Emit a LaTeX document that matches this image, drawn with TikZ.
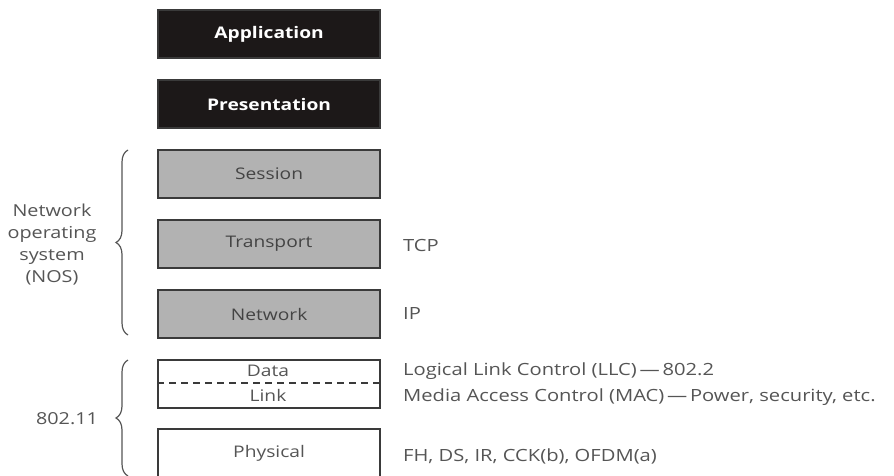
\documentclass[tikz,border=0pt]{standalone}
\usepackage{fontspec}
\setmainfont{Open Sans}[FakeStretch=1.2]
\usetikzlibrary{decorations.pathreplacing}
\definecolor{txt}{HTML}{555555}
\definecolor{boxline}{HTML}{3A3A3A}
\definecolor{darkfill}{HTML}{1C1818}
\definecolor{grayfill}{HTML}{B2B2B2}
\tikzset{
  layer/.style={draw=boxline, line width=2.2pt, minimum width=222pt, minimum height=48pt, anchor=north west, inner sep=0pt, font=\fontsize{16}{19}\selectfont},
  darklayer/.style={layer, fill=darkfill, text=white, font=\fontsize{16}{19}\selectfont\bfseries},
  graylayer/.style={layer, fill=grayfill, text=txt!80!black},
  whitelayer/.style={layer, fill=white, text=txt},
  lbl/.style={text=txt, anchor=west, inner sep=0pt, font=\fontsize{16.8}{19}\selectfont},
  sidelbl/.style={text=txt, align=center, inner sep=0pt, font=\fontsize{16.5}{22}\selectfont},
  bracestyle/.style={draw=txt, line width=1.2pt, decorate, decoration={brace, amplitude=12pt}}
}
\begin{document}
\begin{tikzpicture}[x=1pt, y=-1pt]
\useasboundingbox (0,0) rectangle (894,476);
\node[darklayer] (app) at (157,9) {Application};
\node[darklayer] (pres) at (157,79) {Presentation};
\node[graylayer] (sess) at (157,149) {Session};
\node[graylayer] (trans) at (157,219) {Transport};
\node[graylayer] (net) at (157,289) {Network};
\node[whitelayer, text height=0pt] (dl) at (157,359) {};
\node[text=txt, inner sep=0pt, font=\fontsize{16}{19}\selectfont] (dlt) at (268,371) {Data};
\node[text=txt, inner sep=0pt, font=\fontsize{16}{19}\selectfont] (dlb) at (268,395) {Link};
\draw[boxline, line width=2pt, dash pattern=on 7pt off 5pt] (dl.west |- 0,383) coordinate (dashl) -- (dashl -| dl.east) coordinate (dashr);
\node[whitelayer] (phys) at (157,428) {Physical};

\node[lbl] (tcp) at (403,245) {TCP};
\node[lbl] (ip) at (403,314) {IP};
\node[lbl] (llc) at (403,371) {Logical Link Control (LLC)\,---\,802.2};
\node[lbl] (mac) at (403,397) {Media Access Control (MAC)\,---\,Power, security, etc.};
\node[lbl] (fh) at (403,456) {FH, DS, IR, CCK(b), OFDM(a)};

\coordinate (nosb) at (128,335);
\coordinate (nost) at (128,150);
\draw[bracestyle] (nosb) -- (nost);
\node[sidelbl] (nos) at (52,245) {Network\\operating\\system\\(NOS)};

\coordinate (wb) at (128,476);
\coordinate (wt) at (128,360);
\draw[bracestyle] (wb) -- (wt);
\node[sidelbl] (w) at (67,419) {802.11};
\end{tikzpicture}
\end{document}
